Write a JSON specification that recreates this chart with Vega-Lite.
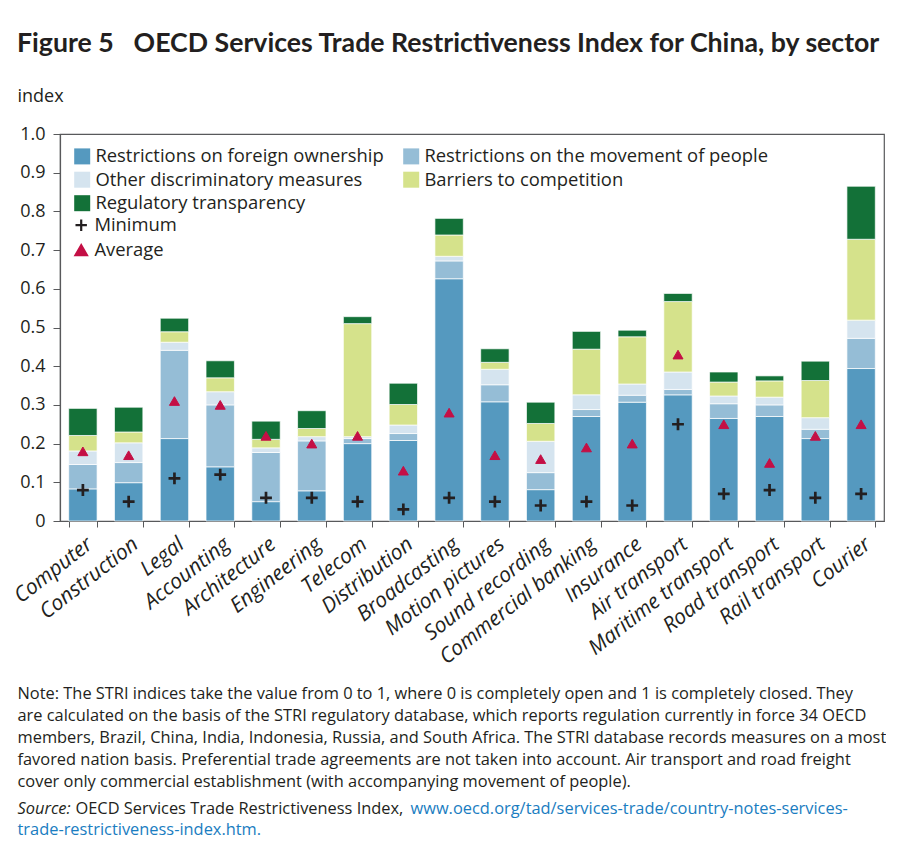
{
  "$schema": "https://vega.github.io/schema/vega-lite/v6.json",
  "width": 824,
  "height": 387,
  "padding": {"left": 10, "top": 30, "right": 0, "bottom": 8},
  "background": "white",
  "config": {
    "font": "Open Sans",
    "view": {"stroke": "#58595b", "strokeWidth": 1.2},
    "axis": {"grid": false}
  },
  "title": {
    "text": "Figure 5\u2002 OECD Services Trade Restrictiveness Index for China, by sector",
    "anchor": "start",
    "frame": "group",
    "dx": -43,
    "font": "Lato",
    "fontSize": 26.7,
    "fontWeight": "bold",
    "color": "#231f20",
    "offset": 29.5
  },
  "datasets": {
    "bars": [
      {"s":"Computer","k":1,"c":"Restrictions on foreign ownership","v":0.083},
      {"s":"Computer","k":2,"c":"Restrictions on the movement of people","v":0.063},
      {"s":"Computer","k":3,"c":"Other discriminatory measures","v":0.035},
      {"s":"Computer","k":4,"c":"Barriers to competition","v":0.040},
      {"s":"Computer","k":5,"c":"Regulatory transparency","v":0.070},
      {"s":"Construction","k":1,"c":"Restrictions on foreign ownership","v":0.099},
      {"s":"Construction","k":2,"c":"Restrictions on the movement of people","v":0.052},
      {"s":"Construction","k":3,"c":"Other discriminatory measures","v":0.051},
      {"s":"Construction","k":4,"c":"Barriers to competition","v":0.028},
      {"s":"Construction","k":5,"c":"Regulatory transparency","v":0.064},
      {"s":"Legal","k":1,"c":"Restrictions on foreign ownership","v":0.213},
      {"s":"Legal","k":2,"c":"Restrictions on the movement of people","v":0.228},
      {"s":"Legal","k":3,"c":"Other discriminatory measures","v":0.021},
      {"s":"Legal","k":4,"c":"Barriers to competition","v":0.027},
      {"s":"Legal","k":5,"c":"Regulatory transparency","v":0.035},
      {"s":"Accounting","k":1,"c":"Restrictions on foreign ownership","v":0.140},
      {"s":"Accounting","k":2,"c":"Restrictions on the movement of people","v":0.160},
      {"s":"Accounting","k":3,"c":"Other discriminatory measures","v":0.034},
      {"s":"Accounting","k":4,"c":"Barriers to competition","v":0.036},
      {"s":"Accounting","k":5,"c":"Regulatory transparency","v":0.044},
      {"s":"Architecture","k":1,"c":"Restrictions on foreign ownership","v":0.050},
      {"s":"Architecture","k":2,"c":"Restrictions on the movement of people","v":0.127},
      {"s":"Architecture","k":3,"c":"Other discriminatory measures","v":0.012},
      {"s":"Architecture","k":4,"c":"Barriers to competition","v":0.022},
      {"s":"Architecture","k":5,"c":"Regulatory transparency","v":0.047},
      {"s":"Engineering","k":1,"c":"Restrictions on foreign ownership","v":0.078},
      {"s":"Engineering","k":2,"c":"Restrictions on the movement of people","v":0.129},
      {"s":"Engineering","k":3,"c":"Other discriminatory measures","v":0.011},
      {"s":"Engineering","k":4,"c":"Barriers to competition","v":0.021},
      {"s":"Engineering","k":5,"c":"Regulatory transparency","v":0.046},
      {"s":"Telecom","k":1,"c":"Restrictions on foreign ownership","v":0.200},
      {"s":"Telecom","k":2,"c":"Restrictions on the movement of people","v":0.013},
      {"s":"Telecom","k":3,"c":"Other discriminatory measures","v":0.005},
      {"s":"Telecom","k":4,"c":"Barriers to competition","v":0.292},
      {"s":"Telecom","k":5,"c":"Regulatory transparency","v":0.018},
      {"s":"Distribution","k":1,"c":"Restrictions on foreign ownership","v":0.208},
      {"s":"Distribution","k":2,"c":"Restrictions on the movement of people","v":0.018},
      {"s":"Distribution","k":3,"c":"Other discriminatory measures","v":0.022},
      {"s":"Distribution","k":4,"c":"Barriers to competition","v":0.053},
      {"s":"Distribution","k":5,"c":"Regulatory transparency","v":0.055},
      {"s":"Broadcasting","k":1,"c":"Restrictions on foreign ownership","v":0.626},
      {"s":"Broadcasting","k":2,"c":"Restrictions on the movement of people","v":0.046},
      {"s":"Broadcasting","k":3,"c":"Other discriminatory measures","v":0.012},
      {"s":"Broadcasting","k":4,"c":"Barriers to competition","v":0.055},
      {"s":"Broadcasting","k":5,"c":"Regulatory transparency","v":0.043},
      {"s":"Motion pictures","k":1,"c":"Restrictions on foreign ownership","v":0.308},
      {"s":"Motion pictures","k":2,"c":"Restrictions on the movement of people","v":0.044},
      {"s":"Motion pictures","k":3,"c":"Other discriminatory measures","v":0.040},
      {"s":"Motion pictures","k":4,"c":"Barriers to competition","v":0.018},
      {"s":"Motion pictures","k":5,"c":"Regulatory transparency","v":0.035},
      {"s":"Sound recording","k":1,"c":"Restrictions on foreign ownership","v":0.081},
      {"s":"Sound recording","k":2,"c":"Restrictions on the movement of people","v":0.044},
      {"s":"Sound recording","k":3,"c":"Other discriminatory measures","v":0.081},
      {"s":"Sound recording","k":4,"c":"Barriers to competition","v":0.046},
      {"s":"Sound recording","k":5,"c":"Regulatory transparency","v":0.055},
      {"s":"Commercial banking","k":1,"c":"Restrictions on foreign ownership","v":0.270},
      {"s":"Commercial banking","k":2,"c":"Restrictions on the movement of people","v":0.018},
      {"s":"Commercial banking","k":3,"c":"Other discriminatory measures","v":0.038},
      {"s":"Commercial banking","k":4,"c":"Barriers to competition","v":0.118},
      {"s":"Commercial banking","k":5,"c":"Regulatory transparency","v":0.046},
      {"s":"Insurance","k":1,"c":"Restrictions on foreign ownership","v":0.307},
      {"s":"Insurance","k":2,"c":"Restrictions on the movement of people","v":0.018},
      {"s":"Insurance","k":3,"c":"Other discriminatory measures","v":0.029},
      {"s":"Insurance","k":4,"c":"Barriers to competition","v":0.122},
      {"s":"Insurance","k":5,"c":"Regulatory transparency","v":0.017},
      {"s":"Air transport","k":1,"c":"Restrictions on foreign ownership","v":0.326},
      {"s":"Air transport","k":2,"c":"Restrictions on the movement of people","v":0.014},
      {"s":"Air transport","k":3,"c":"Other discriminatory measures","v":0.045},
      {"s":"Air transport","k":4,"c":"Barriers to competition","v":0.182},
      {"s":"Air transport","k":5,"c":"Regulatory transparency","v":0.021},
      {"s":"Maritime transport","k":1,"c":"Restrictions on foreign ownership","v":0.265},
      {"s":"Maritime transport","k":2,"c":"Restrictions on the movement of people","v":0.038},
      {"s":"Maritime transport","k":3,"c":"Other discriminatory measures","v":0.020},
      {"s":"Maritime transport","k":4,"c":"Barriers to competition","v":0.036},
      {"s":"Maritime transport","k":5,"c":"Regulatory transparency","v":0.026},
      {"s":"Road transport","k":1,"c":"Restrictions on foreign ownership","v":0.270},
      {"s":"Road transport","k":2,"c":"Restrictions on the movement of people","v":0.030},
      {"s":"Road transport","k":3,"c":"Other discriminatory measures","v":0.020},
      {"s":"Road transport","k":4,"c":"Barriers to competition","v":0.042},
      {"s":"Road transport","k":5,"c":"Regulatory transparency","v":0.013},
      {"s":"Rail transport","k":1,"c":"Restrictions on foreign ownership","v":0.213},
      {"s":"Rail transport","k":2,"c":"Restrictions on the movement of people","v":0.024},
      {"s":"Rail transport","k":3,"c":"Other discriminatory measures","v":0.030},
      {"s":"Rail transport","k":4,"c":"Barriers to competition","v":0.096},
      {"s":"Rail transport","k":5,"c":"Regulatory transparency","v":0.050},
      {"s":"Courier","k":1,"c":"Restrictions on foreign ownership","v":0.394},
      {"s":"Courier","k":2,"c":"Restrictions on the movement of people","v":0.078},
      {"s":"Courier","k":3,"c":"Other discriminatory measures","v":0.047},
      {"s":"Courier","k":4,"c":"Barriers to competition","v":0.209},
      {"s":"Courier","k":5,"c":"Regulatory transparency","v":0.137}
    ],
    "pts": [
      {"s":"Computer","stat":"Minimum","v":0.08},{"s":"Computer","stat":"Average","v":0.18},
      {"s":"Construction","stat":"Minimum","v":0.05},{"s":"Construction","stat":"Average","v":0.17},
      {"s":"Legal","stat":"Minimum","v":0.11},{"s":"Legal","stat":"Average","v":0.31},
      {"s":"Accounting","stat":"Minimum","v":0.12},{"s":"Accounting","stat":"Average","v":0.30},
      {"s":"Architecture","stat":"Minimum","v":0.06},{"s":"Architecture","stat":"Average","v":0.22},
      {"s":"Engineering","stat":"Minimum","v":0.06},{"s":"Engineering","stat":"Average","v":0.20},
      {"s":"Telecom","stat":"Minimum","v":0.05},{"s":"Telecom","stat":"Average","v":0.22},
      {"s":"Distribution","stat":"Minimum","v":0.03},{"s":"Distribution","stat":"Average","v":0.13},
      {"s":"Broadcasting","stat":"Minimum","v":0.06},{"s":"Broadcasting","stat":"Average","v":0.28},
      {"s":"Motion pictures","stat":"Minimum","v":0.05},{"s":"Motion pictures","stat":"Average","v":0.17},
      {"s":"Sound recording","stat":"Minimum","v":0.04},{"s":"Sound recording","stat":"Average","v":0.16},
      {"s":"Commercial banking","stat":"Minimum","v":0.05},{"s":"Commercial banking","stat":"Average","v":0.19},
      {"s":"Insurance","stat":"Minimum","v":0.04},{"s":"Insurance","stat":"Average","v":0.20},
      {"s":"Air transport","stat":"Minimum","v":0.25},{"s":"Air transport","stat":"Average","v":0.43},
      {"s":"Maritime transport","stat":"Minimum","v":0.07},{"s":"Maritime transport","stat":"Average","v":0.25},
      {"s":"Road transport","stat":"Minimum","v":0.08},{"s":"Road transport","stat":"Average","v":0.15},
      {"s":"Rail transport","stat":"Minimum","v":0.06},{"s":"Rail transport","stat":"Average","v":0.22},
      {"s":"Courier","stat":"Minimum","v":0.07},{"s":"Courier","stat":"Average","v":0.25}
    ]
  },
  "resolve": {"axis": {"x": "independent", "y": "independent"}},
  "layer": [
    {
      "data": {"name": "bars"},
      "mark": {"type": "bar", "stroke": "#ffffff", "strokeWidth": 0.7},
      "encoding": {
        "x": {
          "field": "s", "type": "nominal",
          "scale": {"domain": ["Computer","Construction","Legal","Accounting","Architecture","Engineering","Telecom","Distribution","Broadcasting","Motion pictures","Sound recording","Commercial banking","Insurance","Air transport","Maritime transport","Road transport","Rail transport","Courier"], "paddingInner": 0.38, "paddingOuter": 0.19},
          "axis": {
            "orient": "bottom",
            "labelAngle": -38,
            "labelFont": "Open Sans",
            "labelFontStyle": "italic",
            "labelFontSize": 21,
            "labelColor": "#231f20",
            "labelPadding": 6,
            "labelLimit": 0,
            "labelOverlap": false,
            "tickBand": "extent",
            "tickSize": 6,
            "tickColor": "#58595b",
            "domainColor": "#58595b",
            "domainWidth": 1.2,
            "title": [
              "Note: The STRI indices take the value from 0 to 1, where 0 is completely open and 1 is completely closed. They",
              "are calculated on the basis of the STRI regulatory database, which reports regulation currently in force 34 OECD",
              "members, Brazil, China, India, Indonesia, Russia, and South Africa. The STRI database records measures on a most",
              "favored nation basis. Preferential trade agreements are not taken into account. Air transport and road freight",
              "cover only commercial establishment (with accompanying movement of people)."
            ],
            "titleFont": "Open Sans",
            "titleFontSize": 16.4,
            "titleFontWeight": "normal",
            "titleColor": "#231f20",
            "titleAlign": "left",
            "titleAnchor": "start",
            "titleBaseline": "alphabetic",
            "titleAngle": 0,
            "titleX": -43,
            "titleY": 177,
            "titleLineHeight": 22
          }
        },
        "y": {
          "field": "v", "type": "quantitative", "stack": "zero",
          "scale": {"domain": [0, 1], "nice": false},
          "axis": {
            "orient": "left",
            "values": [0, 0.1, 0.2, 0.3, 0.4, 0.5, 0.6, 0.7, 0.8, 0.9, 1.0],
            "labelExpr": "datum.value == 0 ? '0' : format(datum.value, '.1f')",
            "labelOverlap": false,
            "labelFont": "Open Sans",
            "labelFontSize": 18,
            "labelColor": "#231f20",
            "labelPadding": 8,
            "tickSize": 7,
            "tickColor": "#58595b",
            "domainColor": "#58595b",
            "domainWidth": 1.2,
            "title": "index",
            "titleFont": "Open Sans",
            "titleFontSize": 18,
            "titleFontWeight": "normal",
            "titleColor": "#231f20",
            "titleAngle": 0,
            "titleAlign": "left",
            "titleBaseline": "alphabetic",
            "titleX": -43,
            "titleY": -33
          }
        },
        "color": {
          "field": "c", "type": "nominal",
          "scale": {
            "domain": ["Restrictions on foreign ownership","Restrictions on the movement of people","Other discriminatory measures","Barriers to competition","Regulatory transparency"],
            "range": ["#5599bf","#95bdd6","#d5e4ef","#d5e28b","#137138"]
          },
          "legend": {
            "title": null,
            "orient": "none",
            "direction": "horizontal",
            "legendX": 13,
            "legendY": 13,
            "columns": 2,
            "columnPadding": 18,
            "rowPadding": 4.5,
            "symbolType": "square",
            "symbolSize": 256,
            "symbolStrokeWidth": 0,
            "labelFont": "Open Sans",
            "labelFontSize": 18.4,
            "labelColor": "#231f20",
            "labelOffset": 4,
            "labelLimit": 0,
            "padding": 0
          }
        },
        "order": {"field": "k", "type": "quantitative"}
      }
    },
    {
      "data": {"name": "pts"},
      "transform": [{"filter": "datum.stat == 'Minimum'"}],
      "mark": {"type": "point", "size": 140, "strokeWidth": 2.7, "opacity": 1},
      "encoding": {
        "x": {
          "field": "s", "type": "nominal",
          "axis": {
            "orient": "bottom",
            "labels": false, "ticks": false, "domain": false,
            "title": "Source:",
            "titleFont": "Open Sans",
            "titleFontSize": 16.4,
            "titleFontWeight": "normal",
            "titleFontStyle": "italic",
            "titleColor": "#231f20",
            "titleAlign": "left",
            "titleAnchor": "start",
            "titleBaseline": "alphabetic",
            "titleAngle": 0,
            "titleX": -43,
            "titleY": 292
          }
        },
        "y": {
          "field": "v", "type": "quantitative",
          "axis": {
            "orient": "left",
            "labels": false, "ticks": false, "domain": false,
            "title": "OECD Services Trade Restrictiveness Index,",
            "titleFont": "Open Sans",
            "titleFontSize": 16.4,
            "titleFontWeight": "normal",
            "titleColor": "#231f20",
            "titleAlign": "left",
            "titleBaseline": "alphabetic",
            "titleAngle": 0,
            "titleX": 15,
            "titleY": 679
          }
        },
        "shape": {
          "field": "stat", "type": "nominal",
          "scale": {"domain": ["Minimum","Average"], "range": ["M-1,0H1M0,-1V1","triangle-up"]},
          "legend": {
            "title": null, "orient": "none", "legendX": 12, "legendY": 82,
            "rowPadding": 4, "symbolSize": 130, "symbolStrokeWidth": 2.2,
            "labelFont": "Open Sans", "labelFontSize": 18.4, "labelColor": "#231f20",
            "labelOffset": 4, "labelLimit": 0, "padding": 0
          }
        },
        "fill": {
          "field": "stat", "type": "nominal",
          "scale": {"domain": ["Minimum","Average"], "range": ["#231f20","#c40f45"]},
          "legend": {
            "title": null, "orient": "none", "legendX": 12, "legendY": 82,
            "rowPadding": 4, "symbolSize": 130, "symbolStrokeWidth": 2.2,
            "labelFont": "Open Sans", "labelFontSize": 18.4, "labelColor": "#231f20",
            "labelOffset": 4, "labelLimit": 0, "padding": 0
          }
        },
        "stroke": {
          "field": "stat", "type": "nominal",
          "scale": {"domain": ["Minimum","Average"], "range": ["#231f20","#c40f45"]},
          "legend": {
            "title": null, "orient": "none", "legendX": 12, "legendY": 82,
            "rowPadding": 4, "symbolSize": 130, "symbolStrokeWidth": 2.2,
            "labelFont": "Open Sans", "labelFontSize": 18.4, "labelColor": "#231f20",
            "labelOffset": 4, "labelLimit": 0, "padding": 0
          }
        }
      }
    },
    {
      "data": {"name": "pts"},
      "transform": [{"filter": "datum.stat == 'Average'"}],
      "mark": {"type": "point", "size": 100, "strokeWidth": 1, "opacity": 1},
      "encoding": {
        "x": {
          "field": "s", "type": "nominal",
          "axis": {
            "orient": "bottom",
            "labels": false, "ticks": false, "domain": false,
            "title": "www.oecd.org/tad/services-trade/country-notes-services-",
            "titleFont": "Open Sans",
            "titleFontSize": 16.4,
            "titleFontWeight": "normal",
            "titleColor": "#1a7dc1",
            "titleAlign": "left",
            "titleAnchor": "start",
            "titleBaseline": "alphabetic",
            "titleAngle": 0,
            "titleX": 350,
            "titleY": 292
          }
        },
        "y": {
          "field": "v", "type": "quantitative",
          "axis": {
            "orient": "left",
            "labels": false, "ticks": false, "domain": false,
            "title": "trade-restrictiveness-index.htm.",
            "titleFont": "Open Sans",
            "titleFontSize": 16.4,
            "titleFontWeight": "normal",
            "titleColor": "#1a7dc1",
            "titleAlign": "left",
            "titleBaseline": "alphabetic",
            "titleAngle": 0,
            "titleX": -43,
            "titleY": 700.5
          }
        },
        "shape": {"field": "stat", "type": "nominal"},
        "fill": {"field": "stat", "type": "nominal"},
        "stroke": {"field": "stat", "type": "nominal"}
      }
    }
  ]
}
